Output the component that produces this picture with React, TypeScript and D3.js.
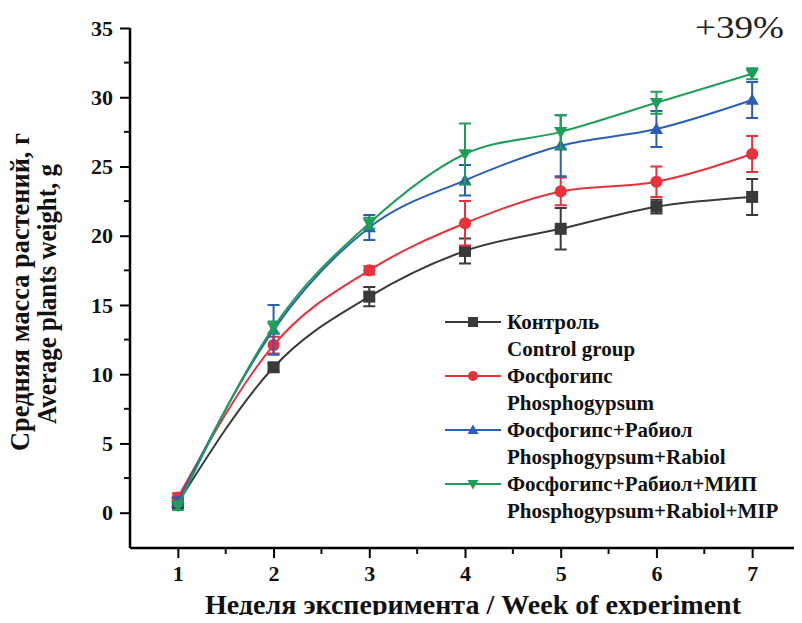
import React, { useEffect, useRef } from "react";
import * as d3 from "d3";

const weeks = [1, 2, 3, 4, 5, 6, 7];
const controlMean = [0.7, 10.5, 15.6, 18.9, 20.5, 22.1, 22.8];
const controlErr = [0.3, 0.3, 0.7, 0.9, 1.5, 0.5, 1.3];
const phosphoMean = [1.1, 12.1, 17.5, 20.9, 23.2, 23.9, 25.9];
const phosphoErr = [0.3, 0.6, 0.3, 1.6, 1.0, 1.1, 1.3];
const rabiolMean = [0.8, 13.2, 20.6, 24.0, 26.5, 27.7, 29.8];
const rabiolErr = [0.3, 1.8, 0.9, 1.1, 2.2, 1.3, 1.3];
const mipMean = [0.5, 13.4, 20.9, 25.9, 27.5, 29.6, 31.7];
const mipErr = [0.3, 0.4, 0.4, 2.2, 1.2, 0.8, 0.4];

const seriesNames = [
  ["Контроль", "Control group"],
  ["Фосфогипс", "Phosphogypsum"],
  ["Фосфогипс+Рабиол", "Phosphogypsum+Rabiol"],
  ["Фосфогипс+Рабиол+МИП", "Phosphogypsum+Rabiol+MIP"],
];
const seriesColors = ["#3a3a3a", "#e8313b", "#2b5fb4", "#1f9e5a"];
const seriesMarkers = ["square", "circle", "triangle", "triangleDown"];
const yTicks = [0, 5, 10, 15, 20, 25, 30, 35];

const font = "Liberation Serif";

function markerPath(kind: string, size: number) {
  const s = size / 2;
  if (kind === "square") return `M${-s},${-s}H${s}V${s}H${-s}Z`;
  if (kind === "circle")
    return d3.symbol(d3.symbolCircle, size * size * 0.8)() as string;
  if (kind === "triangle") return `M0,${-s * 1.1}L${s * 1.1},${s * 0.8}L${-s * 1.1},${s * 0.8}Z`;
  return `M0,${s * 1.1}L${s * 1.1},${-s * 0.8}L${-s * 1.1},${-s * 0.8}Z`;
}

function Chart() {
  const ref = useRef<SVGSVGElement>(null);
  const width = 802;
  const height = 623;

  useEffect(() => {
    const svg = d3.select(ref.current);
    svg.selectAll("*").remove();

    const left = 130;
    const right = 800;
    const top = 28;
    const bottom = 548;

    const x = d3.scaleLinear().domain([0.5, 7.5]).range([left, right]);
    const y = d3.scaleLinear().domain([-2.55, 35]).range([bottom, top]);

    const means = [controlMean, phosphoMean, rabiolMean, mipMean];
    const errs = [controlErr, phosphoErr, rabiolErr, mipErr];

    // axes
    const yAxis = d3
      .axisLeft(y)
      .tickValues(yTicks)
      .tickSize(10)
      .tickFormat((d) => String(d));
    const gy = svg.append("g").attr("transform", `translate(${left},0)`).call(yAxis);
    gy.select(".domain").attr("d", `M0,${bottom}V${top}`);
    gy.selectAll("line").attr("stroke-width", 2);
    gy.select(".domain").attr("stroke-width", 2.5);
    gy.selectAll("text")
      .style("font-family", font)
      .attr("font-weight", "bold")
      .attr("font-size", 22)
      .attr("fill", "#111")
      .attr("x", -17);

    svg
      .append("g")
      .selectAll("line")
      .data(d3.range(2.5, 35, 5))
      .join("line")
      .attr("x1", left - 6)
      .attr("x2", left)
      .attr("y1", (d) => y(d))
      .attr("y2", (d) => y(d))
      .attr("stroke", "#111")
      .attr("stroke-width", 2);

    const xAxis = d3
      .axisBottom(x)
      .tickValues(weeks)
      .tickSize(10)
      .tickFormat((d) => String(d));
    const gx = svg.append("g").attr("transform", `translate(0,${bottom})`).call(xAxis);
    gx.select(".domain").attr("d", `M${left},0H${right}`).attr("stroke-width", 2.5);
    gx.selectAll("line").attr("stroke-width", 2);
    gx.selectAll("text")
      .style("font-family", font)
      .attr("font-weight", "bold")
      .attr("font-size", 22)
      .attr("fill", "#111")
      .attr("y", 17);

    svg
      .append("g")
      .selectAll("line")
      .data(d3.range(1.5, 7.5, 1))
      .join("line")
      .attr("x1", (d) => x(d))
      .attr("x2", (d) => x(d))
      .attr("y1", bottom)
      .attr("y2", bottom + 6)
      .attr("stroke", "#111")
      .attr("stroke-width", 2);

    // axis titles
    const title = (t: string, tx: number, ty: number, rot: boolean, len: number) =>
      svg
        .append("text")
        .attr("transform", `translate(${tx},${ty})${rot ? " rotate(-90)" : ""}`)
        .attr("text-anchor", "middle")
        .style("font-family", font)
        .attr("font-weight", "bold")
        .attr("font-size", 27)
        .attr("textLength", len)
        .attr("lengthAdjust", "spacingAndGlyphs")
        .attr("fill", "#111")
        .text(t);
    title("Средняя масса растений, г", 29, 292, true, 318);
    title("Average plants weight, g", 56, 294, true, 260);
    title("Неделя эксперимента / Week of experiment", 473, 614, false, 536);

    svg
      .append("text")
      .attr("x", 695)
      .attr("y", 38)
      .style("font-family", font)
      .attr("font-size", 31)
      .attr("textLength", 89)
      .attr("lengthAdjust", "spacingAndGlyphs")
      .attr("fill", "#222")
      .text("+39%");

    const line = d3
      .line<number>()
      .x((_, i) => x(weeks[i]))
      .y((d) => y(d))
      .curve(d3.curveMonotoneX);

    means.forEach((m, si) => {
      const color = seriesColors[si];
      const g = svg.append("g");
      g.append("path")
        .attr("d", line(m))
        .attr("fill", "none")
        .attr("stroke", color)
        .attr("stroke-width", 2);
      m.forEach((v, i) => {
        const e = errs[si][i];
        const cx = x(weeks[i]);
        g.append("path")
          .attr(
            "d",
            `M${cx},${y(v + e)}V${y(v - e)}M${cx - 6},${y(v + e)}H${cx + 6}M${cx - 6},${y(v - e)}H${cx + 6}`
          )
          .attr("stroke", color)
          .attr("stroke-width", 2)
          .attr("fill", "none");
        g.append("path")
          .attr("d", markerPath(seriesMarkers[si], 12))
          .attr("transform", `translate(${cx},${y(v)})`)
          .attr("fill", color);
      });
    });

    // legend
    const lg = svg.append("g").attr("transform", "translate(445,322)");
    seriesNames.forEach((names, i) => {
      const yy = i * 54;
      lg.append("line")
        .attr("x1", 0)
        .attr("x2", 56)
        .attr("y1", yy)
        .attr("y2", yy)
        .attr("stroke", seriesColors[i])
        .attr("stroke-width", 2);
      lg.append("path")
        .attr("d", markerPath(seriesMarkers[i], 10))
        .attr("transform", `translate(28,${yy})`)
        .attr("fill", seriesColors[i]);
      names.forEach((n, k) => {
        lg.append("text")
          .attr("x", 62)
          .attr("y", yy + k * 27 + 7)
          .style("font-family", font)
          .attr("font-weight", "bold")
          .attr("font-size", 21)
          .attr("fill", "#111")
          .text(n);
      });
    });
  }, []);

  return <svg ref={ref} width={width} height={height} style={{ display: "block" }} />;
}

export default function App() {
  return (
    <div style={{ margin: -8 }}>
      <Chart />
    </div>
  );
}
